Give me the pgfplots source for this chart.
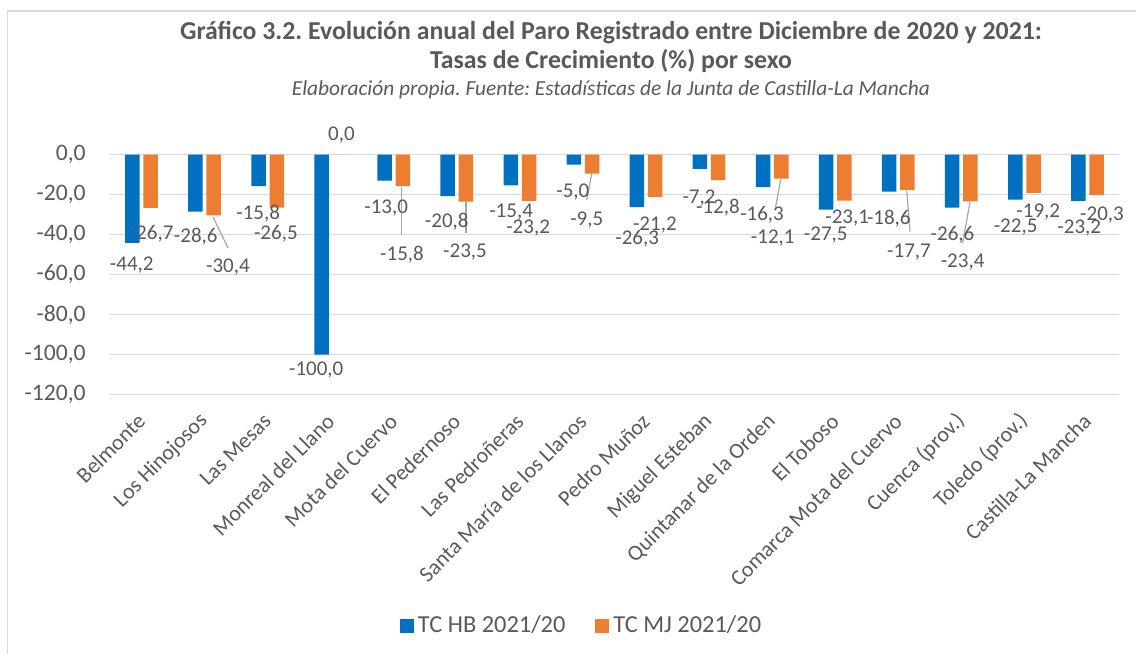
\documentclass[border=0pt]{standalone}
\usepackage{pgfplots}
\pgfplotsset{compat=1.18}
\usepackage{fontspec}
\setmainfont{Carlito}
\frenchspacing
\definecolor{txt}{HTML}{595959}
\definecolor{gridc}{HTML}{D9D9D9}
\definecolor{hb}{HTML}{0070C0}
\definecolor{mj}{HTML}{ED7D31}
\definecolor{lead}{HTML}{A6A6A6}
\begin{document}
\begin{tikzpicture}[x=1pt,y=1pt]
\useasboundingbox (0,0) rectangle (568,327);
\draw[gridc, line width=0.75pt] (3.75,0) -- (3.75,321.5) -- (568,321.5);
\begin{axis}[
  at={(55pt,129.75pt)}, anchor=south west,
  scale only axis, width=504.5pt, height=120pt,
  xmin=-0.5, xmax=15.5, ymin=-120, ymax=0,
  clip=false,
  axis line style={draw=none},
  major tick length=0pt,
  ytick={-120,-100,-80,-60,-40,-20,0},
  ymajorgrids, grid style={gridc, line width=0.9pt},
  /pgf/number format/fixed,
  /pgf/number format/fixed zerofill,
  /pgf/number format/precision=1,
  /pgf/number format/use comma,
  /pgf/number format/assume math mode=true,
  yticklabel style={font=\fontsize{11.8}{14}\selectfont, text=txt, anchor=east, inner sep=0pt, xshift=-12pt},
  xtick={0,...,15},
  xticklabels={Belmonte,Los Hinojosos,Las Mesas,Monreal del Llano,Mota del Cuervo,El Pedernoso,Las Pedroñeras,Santa María de los Llanos,Pedro Muñoz,Miguel Esteban,Quintanar de la Orden,El Toboso,Comarca Mota del Cuervo,Cuenca (prov.),Toledo (prov.),Castilla-La Mancha},
  xticklabel style={font=\fontsize{11}{13}\selectfont, text=txt, xshift=0pt, yshift=-11.5pt, rotate=45, anchor=east, inner sep=0pt},
  legend style={at={(0.4683,-0.9646)}, anchor=center, draw=none, fill=none, legend columns=2, font=\fontsize{12.2}{14}\selectfont, text=txt, /tikz/every even column/.append style={column sep=13pt}, legend cell align=left},
]
\addplot[ybar, bar width=0.23, bar shift=-0.145, fill=hb, draw=none,
  legend image code/.code={\fill[hb] (0pt,-3.5pt) rectangle (7pt,3.5pt);}] table {
x y
0 -44.2
1 -28.6
2 -15.8
3 -100.0
4 -13.0
5 -20.8
6 -15.4
7 -5.0
8 -26.3
9 -7.2
10 -16.3
11 -27.5
12 -18.6
13 -26.6
14 -22.5
15 -23.2
};
\addlegendentry{TC HB 2021/20}
\addplot[ybar, bar width=0.23, bar shift=0.145, fill=mj, draw=none,
  legend image code/.code={\fill[mj] (0pt,-3.5pt) rectangle (7pt,3.5pt);}] table {
x y
0 -26.7
1 -30.4
2 -26.5
3 0.0
4 -15.8
5 -23.5
6 -23.2
7 -9.5
8 -21.2
9 -12.8
10 -12.1
11 -23.1
12 -17.7
13 -23.4
14 -19.2
15 -20.3
};
\addlegendentry{TC MJ 2021/20}
% leader lines
\addplot[lead, line width=0.6pt, mark=none, forget plot] coordinates {(1.134,-31.25) (1.372,-46.75)};
\addplot[lead, line width=0.6pt, mark=none, forget plot] coordinates {(4.126,-16.1) (4.126,-40.25)};
\addplot[lead, line width=0.6pt, mark=none, forget plot] coordinates {(5.146,-23.75) (5.146,-39.25)};
\addplot[lead, line width=0.6pt, mark=none, forget plot] coordinates {(7.139,-9.4) (7.06,-22.75)};
\addplot[lead, line width=0.6pt, mark=none, forget plot] coordinates {(10.136,-12.4) (10.046,-27.75)};
\addplot[lead, line width=0.6pt, mark=none, forget plot] coordinates {(12.134,-18.1) (12.187,-38.6)};
\addplot[lead, line width=0.6pt, mark=none, forget plot] coordinates {(13.138,-23.6) (13.02,-44.4)};
% data labels HB
\addplot[draw=none, mark=none, forget plot, nodes near coords={\pgfplotspointmeta}, point meta=explicit symbolic, nodes near coords align={center},
  every node near coord/.append style={font=\fontsize{10.5}{12}\selectfont, text=txt, inner sep=0pt}] table[meta=lab] {
x y lab
-0.155 -55.25 -44,2
0.86 -41.1 -28,6
1.85 -29.4 -15,8
2.77 -107.75 -100,0
3.88 -26.9 -13,0
4.84 -33.6 -20,8
5.86 -28.6 -15,4
6.84 -18.6 -5,0
7.86 -41.9 -26,3
8.84 -21.9 -7,2
9.84 -30.25 -16,3
10.85 -40.25 -27,5
11.85 -31.9 -18,6
12.86 -40.25 -26,6
13.86 -36.1 -22,5
14.87 -36.9 -23,2
};
% data labels MJ
\addplot[draw=none, mark=none, forget plot, nodes near coords={\pgfplotspointmeta}, point meta=explicit symbolic, nodes near coords align={center},
  every node near coord/.append style={font=\fontsize{10.5}{12}\selectfont, text=txt, inner sep=0pt}] table[meta=lab] {
x y lab
0.16 -39.4 -26,7
1.37 -56.1 -30,4
2.13 -39.4 -26,5
3.17 9.75 0,0
4.13 -50.25 -15,8
5.13 -48.6 -23,5
6.13 -36.9 -23,2
7.06 -32.75 -9,5
8.14 -35.25 -21,2
9.14 -26.4 -12,8
10.01 -41.9 -12,1
11.19 -31.9 -23,1
12.17 -48.6 -17,7
13.02 -53.6 -23,4
14.22 -28.6 -19,2
15.23 -30.25 -20,3
};
\end{axis}
\node[anchor=base, text=txt, font=\bfseries\fontsize{12.9}{14}\selectfont] at (305.5,307) {Gráfico 3.2. Evolución anual del Paro Registrado entre Diciembre de 2020 y 2021:};
\node[anchor=base, text=txt, font=\bfseries\fontsize{12.9}{14}\selectfont] at (305.5,292.5) {Tasas de Crecimiento (\%) por sexo};
\node[anchor=base, text=txt, font=\itshape\fontsize{10.7}{12}\selectfont] at (305.5,279) {Elaboración propia. Fuente: Estadísticas de la Junta de Castilla-La Mancha};
\end{tikzpicture}
\end{document}
